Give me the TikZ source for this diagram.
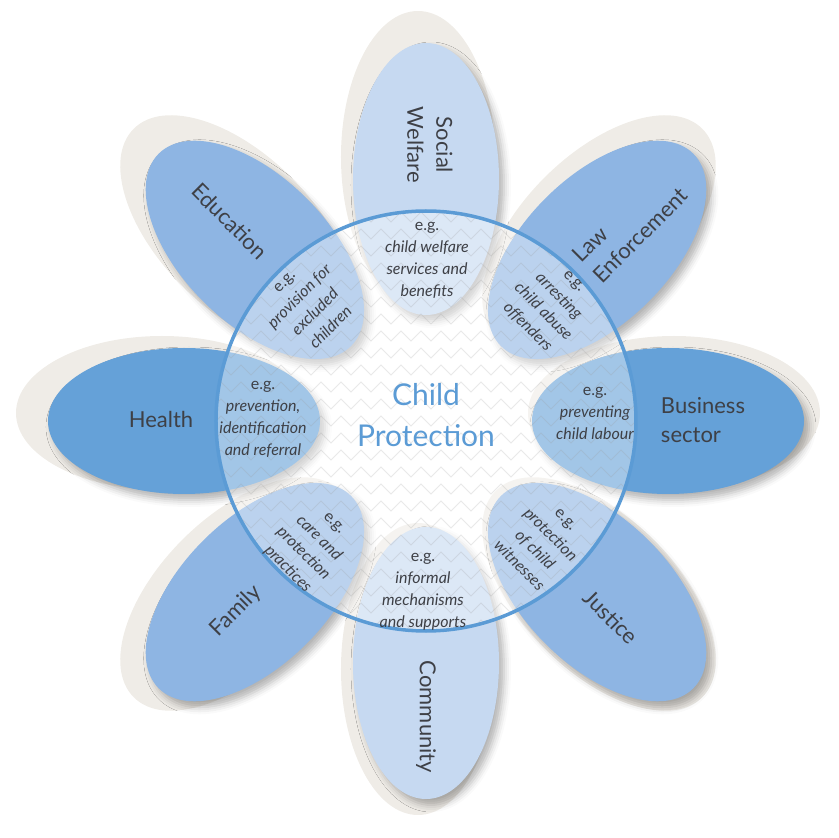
\documentclass[tikz,border=0pt]{standalone}
\usepackage{fontspec}
\setmainfont{Lato}
\usetikzlibrary{shadows.blur,decorations.pathmorphing}

\definecolor{petalsoft}{RGB}{198,217,241}
\definecolor{petalmid}{RGB}{142,181,227}
\definecolor{petaldeep}{RGB}{101,161,216}
\definecolor{rimblue}{RGB}{91,155,213}
\definecolor{ghostgrey}{RGB}{239,236,231}
\definecolor{ink}{RGB}{62,64,70}

\tikzset{
          ghost/.style = {fill = ghostgrey},
          petal/.style = {fill = #1, blur shadow = {shadow xshift = 5pt, shadow yshift = -6pt, shadow blur radius = 7pt, shadow opacity = 30}},
          zig/.style = {draw = black!40, draw opacity = 0.22, line width = 1pt, decorate, decoration = {zigzag, segment length = 20pt, amplitude = 5pt}},
          rim/.style = {draw = rimblue, line width = 3.5pt},
          sector/.style = {text = ink, font = \fontsize{22}{29}\selectfont, align = center, anchor = center},
          eg/.style = {text = ink, font = \fontsize{16}{22}\selectfont\itshape, align = center, anchor = center}
        }

\begin{document}
\begin{tikzpicture}[x=1pt,y=1pt]
          \useasboundingbox (-426,-417) rectangle (413,421);

          % grey ghosts behind the petals
          \foreach \ang in {90,45,0,-45,-90,-135,180,135}{
            \fill[ghost] ([shift={(-8,8)}]\ang:256) ellipse [x radius=146, y radius=77, rotate=\ang];
          }

          % petals
          \foreach \ang/\col in {90/petalsoft,135/petalmid,45/petalmid,180/petaldeep,0/petaldeep,-135/petalmid,-45/petalmid,-90/petalsoft}{
            \fill[petal=\col] (\ang:242) ellipse [x radius=136, y radius=73, rotate=\ang];
          }

          % faded centre with the zigzag ground
          \begin{scope}
            \clip (0,0) circle [radius=210];
            \fill[white, opacity=0.4] (-210,-210) rectangle (210,210);
            \foreach \zy in {-221,-204,...,221}{
              \draw[zig] (-230,\zy) -- (230,\zy);
            }
          \end{scope}
          \draw[rim] (0,0) circle [radius=210];

          \node[text=rimblue, font=\fontsize{30}{41}\selectfont, align=center] (core) at (0,6) {Child\\Protection};

          \node[sector, rotate=-90] (social) at (4,276) {Social\\Welfare};
          \node[sector, rotate=45, align=left] (law) at (204,196) {Law\\Enforcement};
          \node[sector, align=left] (business) at (277,1) {Business\\sector};
          \node[sector, rotate=-45] (justice) at (185,-196) {Justice};
          \node[sector, rotate=-90] (community) at (0,-296) {Community};
          \node[sector, rotate=45] (family) at (-190,-190) {Family};
          \node[sector] (health) at (-265,2) {Health};
          \node[sector, rotate=-45] (education) at (-196,200) {Education};

          \node[eg] (socialeg) at (1,161) {{\upshape e.g.}\\child welfare\\services and\\benefits};
          \node[eg, rotate=-45] (laweg) at (124,116) {{\upshape e.g.}\\arresting\\child abuse\\offenders};
          \node[eg] (businesseg) at (169,8) {{\upshape e.g.}\\preventing\\child labour};
          \node[eg, rotate=-45] (justiceeg) at (116,-122) {{\upshape e.g.}\\protection\\of child\\witnesses};
          \node[eg] (communityeg) at (-3,-171) {{\upshape e.g.}\\informal\\mechanisms\\and supports};
          \node[eg, rotate=-45] (familyeg) at (-116,-126) {{\upshape e.g.}\\care and\\protection\\practices};
          \node[eg] (healtheg) at (-163,2) {{\upshape e.g.}\\prevention,\\identification\\and referral};
          \node[eg, rotate=45] (educationeg) at (-118,116) {{\upshape e.g.}\\provision for\\excluded\\children};
        \end{tikzpicture}
\end{document}
